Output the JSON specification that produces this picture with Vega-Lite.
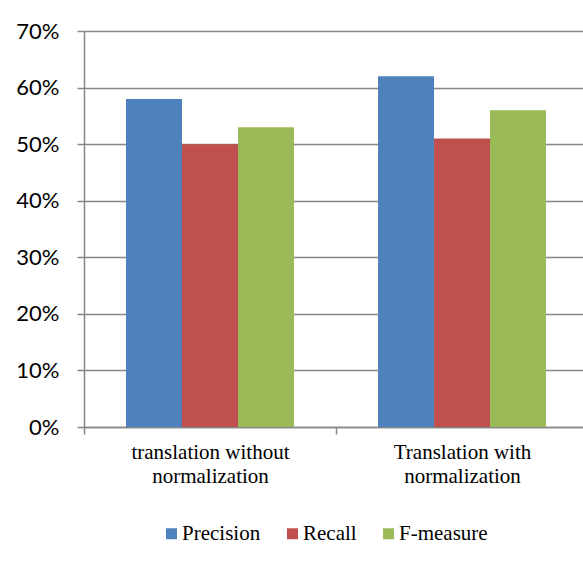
{
  "$schema": "https://vega.github.io/schema/vega-lite/v6.json",
  "width": 498,
  "height": 396,
  "autosize": {"type": "none"},
  "padding": {"left": 84, "top": 31, "right": 1, "bottom": 136},
  "background": "white",
  "data": {
    "values": [
      {"group": "translation without|normalization", "series": "Precision", "value": 0.58},
      {"group": "translation without|normalization", "series": "Recall", "value": 0.50},
      {"group": "translation without|normalization", "series": "F-measure", "value": 0.53},
      {"group": "Translation with|normalization", "series": "Precision", "value": 0.62},
      {"group": "Translation with|normalization", "series": "Recall", "value": 0.51},
      {"group": "Translation with|normalization", "series": "F-measure", "value": 0.56}
    ]
  },
  "mark": {"type": "bar", "clip": false},
  "encoding": {
    "x": {
      "field": "group",
      "type": "nominal",
      "sort": null,
      "title": null,
      "scale": {"paddingInner": 0, "paddingOuter": 0, "range": [0, 504]},
      "axis": {
        "labelExpr": "split(datum.label, '|')",
        "labelAngle": 0,
        "labelFont": "Liberation Serif",
        "labelFontSize": 21,
        "labelColor": "#000000",
        "labelLineHeight": 24,
        "labelPadding": 7,
        "tickBand": "extent",
        "tickSize": 7,
        "tickColor": "#868686",
        "tickWidth": 1.5,
        "domainColor": "#868686",
        "domainWidth": 1.5,
        "grid": false
      }
    },
    "xOffset": {
      "field": "series",
      "type": "nominal",
      "sort": ["Precision", "Recall", "F-measure"],
      "scale": {"paddingInner": 0, "paddingOuter": 0.75}
    },
    "y": {
      "field": "value",
      "type": "quantitative",
      "title": null,
      "scale": {"domain": [0, 0.7], "nice": false},
      "axis": {
        "format": ".0%",
        "values": [0, 0.1, 0.2, 0.3, 0.4, 0.5, 0.6, 0.7],
        "labelFont": "Lato",
        "labelFontSize": 22,
        "labelColor": "#000000",
        "labelPadding": 18,
        "tickSize": 7,
        "tickColor": "#868686",
        "tickWidth": 1.5,
        "domainColor": "#868686",
        "domainWidth": 1.5,
        "grid": true,
        "gridColor": "#868686",
        "gridWidth": 1.5
      }
    },
    "color": {
      "field": "series",
      "type": "nominal",
      "sort": ["Precision", "Recall", "F-measure"],
      "scale": {"domain": ["Precision", "Recall", "F-measure"], "range": ["#4F81BD", "#C0504D", "#9BBB59"]},
      "legend": {
        "title": null,
        "orient": "none",
        "direction": "horizontal",
        "legendX": 77,
        "legendY": 492,
        "symbolType": "square",
        "symbolSize": 121,
        "symbolStrokeWidth": 0,
        "labelFont": "Liberation Serif",
        "labelFontSize": 21,
        "labelColor": "#000000",
        "labelOffset": 0,
        "columnPadding": 21
      }
    }
  },
  "config": {
    "view": {"stroke": null}
  }
}
